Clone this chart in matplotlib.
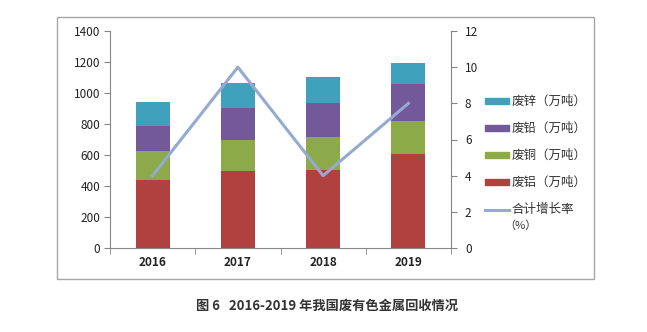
import matplotlib
matplotlib.use("Agg")
import matplotlib.pyplot as plt
from matplotlib.patches import Rectangle
from matplotlib.lines import Line2D
import numpy as np

plt.rcParams['font.family'] = ['Noto Sans CJK SC', 'DejaVu Sans']

years = ['2016', '2017', '2018', '2019']
aluminum = [440, 500, 505, 605]   # 废铝
copper = [183, 198, 214, 215]     # 废铜
lead = [161, 204, 219, 236]       # 废铅
zinc = [156, 161, 163, 140]       # 废锌
growth = [4, 10, 4, 8]            # 合计增长率 (%)

series_names = ['废铝（万吨）', '废铜（万吨）', '废铅（万吨）', '废锌（万吨）']
colors = ['#B0413E', '#8DAA4B', '#74599A', '#3FA1BC']
line_color = '#94AAD0'

W, H = 647, 332
fig = plt.figure(figsize=(W / 100, H / 100), dpi=100)

# outer frame
fig.add_artist(Rectangle((57 / W, 1 - 279 / H), (594 - 57) / W, (279 - 17) / H,
                         transform=fig.transFigure, fill=False,
                         edgecolor='#A6A6A6', linewidth=1.0))

ax = fig.add_axes([110 / W, 1 - 248 / H, (451 - 110) / W, (248 - 31) / H])
x = np.arange(len(years))
bottom = np.zeros(len(years))
for vals, c, name in zip([aluminum, copper, lead, zinc], colors, series_names):
    ax.bar(x, vals, bottom=bottom, width=0.4, color=c, label=name, zorder=2)
    bottom += np.array(vals)

ax.set_xlim(-0.5, 3.5)
ax.set_ylim(0, 1400)
ax.set_yticks(np.arange(0, 1401, 200))
ax.set_xticks(x)
ax.set_xticklabels(years, fontweight='bold')
ax.set_xticks(np.arange(-0.5, 3.6, 1), minor=True)
ax.tick_params(axis='x', which='major', length=0, pad=6, labelsize=8.5, colors='#222222')
ax.tick_params(axis='x', which='minor', length=4, color='#868686')
ax.tick_params(axis='y', length=4, color='#868686', labelsize=8.5, labelcolor='#222222', pad=3)
for s in ['top', 'right']:
    ax.spines[s].set_visible(False)
for s in ['left', 'bottom']:
    ax.spines[s].set_color('#868686')

ax2 = ax.twinx()
ax2.plot(x, growth, color=line_color, linewidth=2.2, zorder=3)
ax2.set_ylim(0, 12)
ax2.set_yticks(np.arange(0, 13, 2))
ax2.tick_params(axis='y', length=4, color='#868686', labelsize=8.5, labelcolor='#222222', pad=6)
for s in ['top', 'left', 'bottom']:
    ax2.spines[s].set_visible(False)
ax2.spines['right'].set_color('#868686')

# legend (manual)
leg_x = 485
leg_items = [('废锌（万吨）', colors[3], 101), ('废铅（万吨）', colors[2], 128),
             ('废铜（万吨）', colors[1], 155), ('废铝（万吨）', colors[0], 182)]
for name, c, yy in leg_items:
    fig.add_artist(Rectangle((leg_x / W, 1 - (yy + 3) / H), 24 / W, 6 / H,
                             transform=fig.transFigure, color=c))
    fig.text((leg_x + 27) / W, 1 - yy / H, name, fontsize=9, va='center', ha='left', color='#333333')
fig.add_artist(Line2D([leg_x / W, (leg_x + 24) / W], [1 - 210 / H, 1 - 210 / H],
                      transform=fig.transFigure, color=line_color, linewidth=2.2))
fig.text((leg_x + 27) / W, 1 - 210 / H, '合计增长率', fontsize=9, va='center', ha='left', color='#333333')
fig.text((leg_x + 35) / W, 1 - 226 / H, '（%）', fontsize=8, va='center', ha='center', color='#333333')

fig.text(327 / W, 1 - 306 / H, '图 6   2016-2019 年我国废有色金属回收情况', fontsize=9.5,
         ha='center', va='center', color='#333333', fontweight='bold')

fig.savefig('out.png', dpi=100)
